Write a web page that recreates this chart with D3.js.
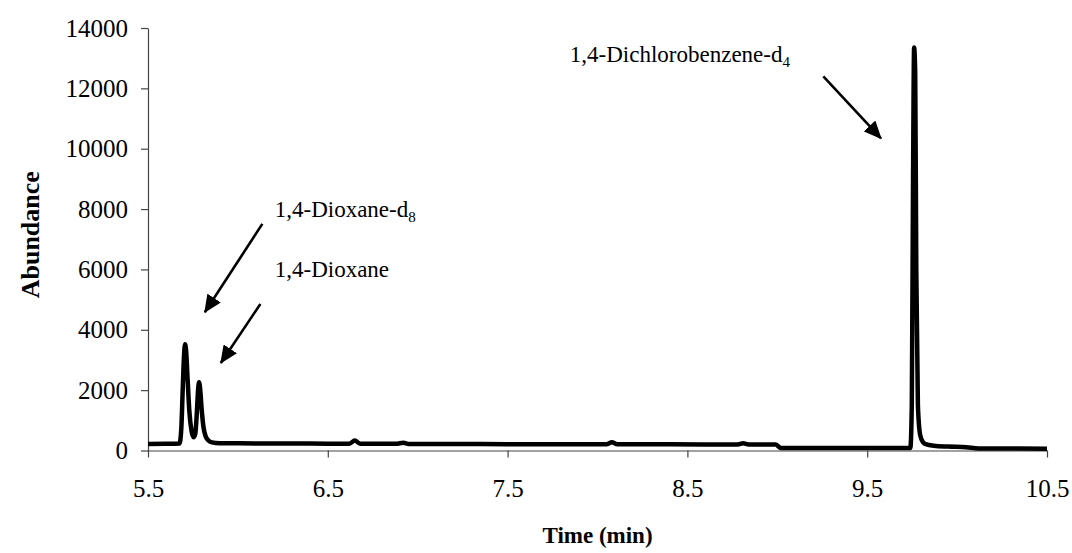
<!DOCTYPE html>
<html>
<head>
<meta charset="utf-8">
<script src="https://cdn.jsdelivr.net/npm/d3@7"></script>
<style>
  body { margin: 0; background: #fff; }
  svg { display: block; }
  svg text { font-family: "Liberation Serif", "Times New Roman", serif; }
</style>
</head>
<body>
<div id="container"></div>
<script>
const width = 1072, height = 553;
const margin = ({top: 28, right: 25, bottom: 102.5, left: 148});

// chromatogram trace
const times = [5.50, 5.60, 5.675, 5.685, 5.693, 5.700, 5.706, 5.712, 5.720, 5.730, 5.742, 5.753,
    5.763, 5.772, 5.779, 5.784, 5.790, 5.798, 5.808, 5.820, 5.835, 5.855, 5.90, 6.10,
    6.40, 6.62, 6.65, 6.68, 6.88, 6.92, 6.95, 7.20, 7.50, 7.80, 8.05, 8.08,
    8.11, 8.40, 8.78, 8.81, 8.84, 8.99, 9.02, 9.20, 9.50, 9.740, 9.748, 9.755,
    9.761, 9.767, 9.773, 9.782, 9.795, 9.81, 9.83, 9.87, 9.95, 10.05, 10.12, 10.50];
const abundance = [215, 220, 230, 700, 2000, 3100, 3520, 3300, 2400, 1300, 650, 440,
    560, 1300, 2050, 2260, 2050, 1400, 800, 480, 340, 270, 240, 235,
    230, 225, 330, 225, 220, 260, 215, 215, 210, 210, 205, 270,
    205, 205, 200, 240, 200, 195, 85, 80, 80, 85, 1500, 9000,
    13350, 12500, 6000, 1500, 500, 280, 200, 160, 130, 110, 70, 60];

const xTicks = [5.5, 6.5, 7.5, 8.5, 9.5, 10.5];
const yTicks = [0, 2000, 4000, 6000, 8000, 10000, 12000, 14000];

// annotations in data units: label start / baseline, arrow tail and head
const labelNames = ["1,4-Dioxane-d", "1,4-Dioxane", "1,4-Dichlorobenzene-d"];
const labelSubs = ["8", "", "4"];
const labelT = [6.205, 6.205, 7.846];
const labelA = [7740, 5750, 12870];
const arrowFromT = [6.136, 6.125, 9.256];
const arrowFromA = [7510, 4855, 12400];
const arrowToT = [5.816, 5.905, 9.577];
const arrowToA = [4580, 2900, 10340];

const svg = d3.select("#container").append("svg")
    .attr("width", width)
    .attr("height", height);

const x = d3.scaleLinear()
    .domain([5.5, 10.5])
    .range([margin.left, width - margin.right]);
const y = d3.scaleLinear()
    .domain([0, 14000])
    .range([height - margin.bottom, margin.top]);

// axes
const gx = svg.append("g")
    .attr("transform", `translate(0,${y(0)})`)
    .call(d3.axisBottom(x).tickValues(xTicks).tickFormat(d3.format(".1f")).tickSize(7).tickPadding(22).tickSizeOuter(0));
const gy = svg.append("g")
    .attr("transform", `translate(${x(5.5)},0)`)
    .call(d3.axisLeft(y).tickValues(yTicks).tickFormat(d3.format("d")).tickSize(7).tickPadding(13).tickSizeOuter(0));

for (let g of [gx, gy]) {
    g.attr("font-family", null).attr("font-size", null);
    g.selectAll(".domain").attr("stroke", "#444").attr("stroke-width", 1.2);
    g.selectAll(".tick line").attr("stroke", "#444").attr("stroke-width", 1.2);
    g.selectAll(".tick text")
        .attr("fill", "#000")
        .style("font-size", "25px");
}

// trace
const data = times.map((t, i) => ({t: t, a: abundance[i]}));
const line = d3.line()
    .x(d => x(d.t))
    .y(d => y(d.a))
    .curve(d3.curveMonotoneX);
svg.append("path")
    .datum(data)
    .attr("fill", "none")
    .attr("stroke", "#000")
    .attr("stroke-width", 4.5)
    .attr("stroke-linejoin", "round")
    .attr("d", line);

// arrow heads
svg.append("defs").append("marker")
    .attr("id", "head")
    .attr("markerUnits", "userSpaceOnUse")
    .attr("viewBox", "0 0 18 16")
    .attr("refX", 17)
    .attr("refY", 8)
    .attr("markerWidth", 18)
    .attr("markerHeight", 16)
    .attr("orient", "auto")
    .append("path")
    .attr("d", "M0,0L18,8L0,16Z")
    .attr("fill", "#000");

svg.selectAll("line.arrow")
    .data(arrowFromT)
    .enter()
    .append("line")
    .attr("class", "arrow")
    .attr("x1", (d, i) => x(arrowFromT[i]))
    .attr("y1", (d, i) => y(arrowFromA[i]))
    .attr("x2", (d, i) => x(arrowToT[i]))
    .attr("y2", (d, i) => y(arrowToA[i]))
    .attr("stroke", "#000")
    .attr("stroke-width", 2.6)
    .attr("marker-end", "url(#head)");

// labels with subscripts
const labels = svg.selectAll("text.label")
    .data(labelNames)
    .enter()
    .append("text")
    .attr("class", "label")
    .attr("x", (d, i) => x(labelT[i]))
    .attr("y", (d, i) => y(labelA[i]))
    .style("font-size", "23px")
    .text(d => d);
labels.append("tspan")
    .style("font-size", "15px")
    .attr("dy", 5)
    .text((d, i) => labelSubs[i]);

// axis titles
svg.append("text")
    .attr("text-anchor", "middle")
    .attr("x", (x(5.5) + x(10.5)) / 2)
    .attr("y", 543)
    .attr("font-weight", "bold")
    .style("font-size", "23px")
    .text("Time (min)");

svg.append("text")
    .attr("text-anchor", "middle")
    .attr("transform", `translate(39,${y(7150)}) rotate(-90)`)
    .attr("font-weight", "bold")
    .style("font-size", "26px")
    .text("Abundance");
</script>
</body>
</html>
